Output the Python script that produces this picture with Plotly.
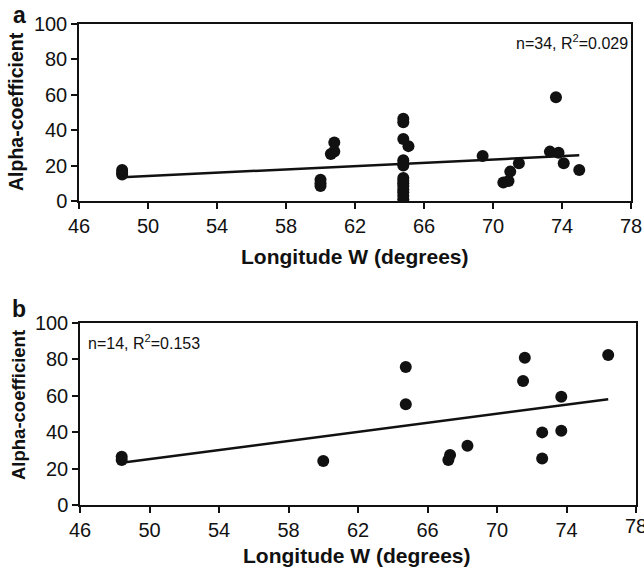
import plotly.graph_objects as go

# Panel a data
a_lon = [48.5, 48.5, 48.5, 60.0, 60.0, 60.0, 60.6, 60.8, 60.8,
         64.8, 64.8, 64.8, 65.1, 64.8, 64.8, 64.8, 64.8, 64.8, 64.8, 64.8, 64.8, 64.8, 64.8, 64.8,
         69.4, 70.6, 70.9, 71.0, 71.5, 73.3, 73.65, 73.8, 74.1, 75.0]
a_alpha = [17.5, 16.0, 15.0, 12.0, 10.0, 8.5, 26.5, 28.0, 33.0,
           46.5, 44.5, 35.0, 31.0, 23.0, 21.0, 20.0, 13.0, 11.5, 10.0, 8.5, 6.5, 5.0, 3.0, 1.0,
           25.4, 10.4, 11.3, 16.6, 21.3, 27.9, 58.6, 27.3, 21.3, 17.5]
a_trend_lon = [48.5, 75.0]
a_trend_alpha = [13.4, 25.8]

# Panel b data
b_lon = [48.4, 48.4, 60.0, 64.75, 64.75, 67.3, 67.2, 68.3, 71.5, 71.6, 72.6, 72.6, 73.7, 73.7, 76.4]
b_alpha = [26.5, 24.7, 24.2, 75.8, 55.3, 27.5, 24.7, 32.6, 68.1, 80.9, 39.9, 25.6, 59.5, 40.8, 82.4]
b_trend_lon = [48.5, 76.4]
b_trend_alpha = [23.3, 58.1]

x_ticks = [46, 50, 54, 58, 62, 66, 70, 74, 78]
y_ticks = [0, 20, 40, 60, 80, 100]

FONT = "Liberation Sans, Arial, sans-serif"
W, H = 644, 573

def px(x):
    return x / W

def py(y):
    return 1 - y / H

fig = go.Figure()
marker = dict(color="#111111", size=12, line=dict(width=0))
fig.add_trace(go.Scatter(x=a_lon, y=a_alpha, mode="markers", marker=marker, xaxis="x", yaxis="y", showlegend=False))
fig.add_trace(go.Scatter(x=a_trend_lon, y=a_trend_alpha, mode="lines", line=dict(color="#111111", width=2.5), xaxis="x", yaxis="y", showlegend=False))
fig.add_trace(go.Scatter(x=b_lon, y=b_alpha, mode="markers", marker=marker, xaxis="x2", yaxis="y2", showlegend=False))
fig.add_trace(go.Scatter(x=b_trend_lon, y=b_trend_alpha, mode="lines", line=dict(color="#111111", width=2.5), xaxis="x2", yaxis="y2", showlegend=False))

axis_common = dict(showline=True, mirror=True, linecolor="#111111", linewidth=1.5,
                   ticks="outside", ticklen=6, tickwidth=1.5, tickcolor="#111111",
                   showgrid=False, zeroline=False, automargin=False,
                   tickfont=dict(family=FONT, size=20, color="#111111"))

fig.update_layout(
    width=W, height=H,
    margin=dict(l=0, r=0, t=0, b=0),
    paper_bgcolor="white", plot_bgcolor="white",
    xaxis=dict(domain=[px(79), px(631)], anchor="y", range=[46, 78], tickvals=x_ticks, **axis_common),
    yaxis=dict(domain=[py(201), py(24)], anchor="x", range=[0, 100], tickvals=y_ticks, **axis_common),
    xaxis2=dict(domain=[px(80), px(636)], anchor="y2", range=[46, 78], tickvals=x_ticks, **axis_common),
    yaxis2=dict(domain=[py(505), py(323)], anchor="x2", range=[0, 100], tickvals=y_ticks, **axis_common),
)

title_font = dict(family=FONT, size=21, color="#111111", weight="bold")
annotations = [
    dict(text="a", x=px(19), y=py(15), font=dict(family=FONT, size=23, color="#111111", weight="bold")),
    dict(text="b", x=px(19), y=py(309), font=dict(family=FONT, size=23, color="#111111", weight="bold")),
    dict(text="Alpha-coefficient", x=px(16), y=py(112), textangle=-90,
         font=dict(family=FONT, size=19.5, color="#111111", weight="bold")),
    dict(text="Alpha-coefficient", x=px(18), y=py(405), textangle=-90,
         font=dict(family=FONT, size=18.5, color="#111111", weight="bold")),
    dict(text="Longitude W (degrees)", x=px(355), y=py(257), font=title_font),
    dict(text="Longitude W (degrees)", x=px(357), y=py(555), font=title_font),
    dict(text="n=34, R<sup>2</sup>=0.029", x=px(630), y=py(42), xanchor="right",
         font=dict(family=FONT, size=16, color="#111111")),
    dict(text="n=14, R<sup>2</sup>=0.153", x=px(86), y=py(342), xanchor="left",
         font=dict(family=FONT, size=16, color="#111111")),
]
for a in annotations:
    a.setdefault("xanchor", "center")
    a.update(xref="paper", yref="paper", yanchor="middle", showarrow=False)
# last tick label of panel b sits at the page edge; plotly drops it, so draw it explicitly
annotations.append(dict(text=str(x_ticks[-1]), x=x_ticks[-1], xref="x2", y=py(526), yref="paper",
                        xanchor="center", yanchor="middle", showarrow=False,
                        font=dict(family=FONT, size=20, color="#111111")))
fig.update_layout(annotations=annotations)

fig.write_html("out.html", config={"displayModeBar": False},
               post_script="document.body.style.margin='0';")
